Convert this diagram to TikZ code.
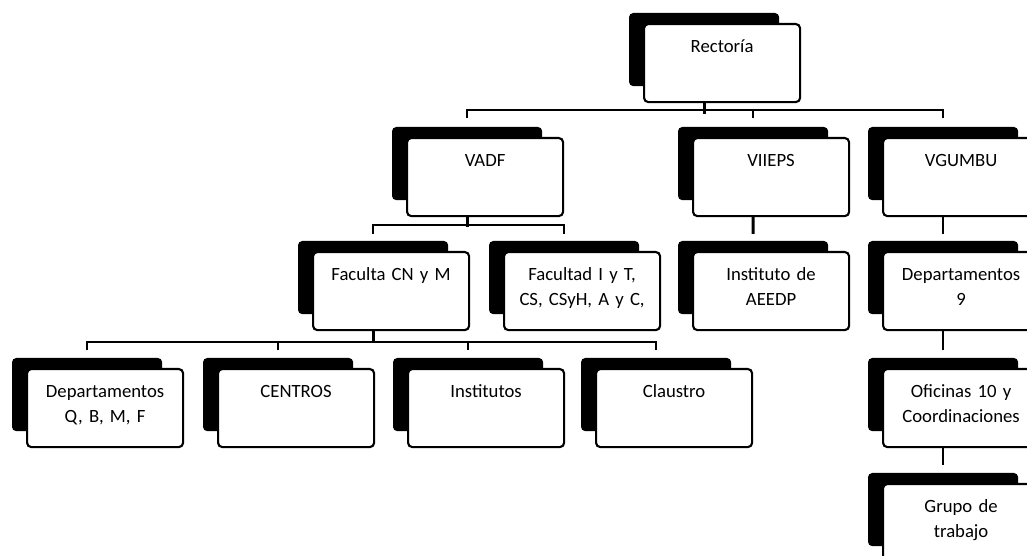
\documentclass[tikz,border=0pt]{standalone}
\usepackage{fontspec}
\setmainfont{Carlito}
\usetikzlibrary{backgrounds}
\begin{document}
\begin{tikzpicture}[x=0.025cm,y=-0.025cm,
		caja/.style={draw, fill=white, line width=1.5pt, rounded corners=3pt,
			minimum width=3.9cm, text width=3.7cm, inner xsep=0.1cm, inner ysep=0pt,
			align=center, text height=0.72cm, text depth=1.23cm,
			font=\fontsize{13.3}{17.5}\selectfont},
		sombra/.style={fill=black, rounded corners=3pt},
		tronco/.style={line width=2.2pt},
		rama/.style={line width=1.3pt}]
	\useasboundingbox (0,0) rectangle (1027,556);
	\clip (0,0) rectangle (1027,556);
	% cajas
	\node[caja] (rec) at (643,23)[anchor = north west] {Rectoría};
	\node[caja] (vadf) at (406,137)[anchor = north west] {VADF};
	\node[caja] (viieps) at (692,137)[anchor = north west] {VIIEPS};
	\node[caja] (vgumbu) at (882,137)[anchor = north west] {VGUMBU};
	\node[caja] (fcnm) at (312,251)[anchor = north west] {Faculta CN y M};
	\node[caja] (fiyt) at (503,251)[anchor = north west] {Facultad I y T,\\ CS, CSyH, A y C,};
	\node[caja] (aeedp) at (692,251)[anchor = north west] {Instituto de\\ AEEDP};
	\node[caja] (dep9) at (882,251)[anchor = north west] {Departamentos\\ 9};
	\node[caja] (depq) at (26,368)[anchor = north west] {Departamentos\\ Q, B, M, F};
	\node[caja] (centros) at (217,368)[anchor = north west] {CENTROS};
	\node[caja] (inst) at (407,368)[anchor = north west] {Institutos};
	\node[caja] (claustro) at (595,368)[anchor = north west] {Claustro};
	\node[caja] (ofic) at (882,368)[anchor = north west] {Oficinas 10 y\\ Coordinaciones};
	\node[caja] (grupo) at (882,483)[anchor = north west] {Grupo de\\ trabajo};
	% sombras
	\begin{scope}[on background layer]
		\foreach \n in {rec,vadf,viieps,vgumbu,fcnm,fiyt,aeedp,dep9,depq,centros,inst,claustro,ofic,grupo}
			\fill[sombra] ([shift={(-14,-10)}]\n.north west) rectangle ([shift={(-22,-17)}]\n.south east);
	\end{scope}
	% conectores
	\draw[tronco] ([xshift=-0.45cm]rec.south) -- ++(0,11);
	\draw[rama] ([shift={(-18,-19)}]vadf.north) -- ++(0,-8) -| ([shift={(-18,-19)}]vgumbu.north);
	\draw[rama] ([shift={(-18,-27)}]viieps.north) -- ++(0,8);
	\draw[tronco] ([xshift=-0.45cm]vadf.south) -- ++(0,10);
	\draw[rama] ([shift={(-18,-17)}]fcnm.north) -- ++(0,-9) -| ([shift={(-18,-17)}]fiyt.north);
	\draw[tronco] ([xshift=-0.45cm]viieps.south) -- ([shift={(-18,-17)}]aeedp.north);
	\draw[rama] ([xshift=-0.45cm]vgumbu.south) -- ([shift={(-18,-17)}]dep9.north);
	\draw[rama] ([xshift=-0.45cm]dep9.south) -- ([shift={(-18,-18)}]ofic.north);
	\draw[rama] ([xshift=-0.45cm]ofic.south) -- ([shift={(-18,-18)}]grupo.north);
	\draw[tronco] ([xshift=-0.45cm]fcnm.south) -- ++(0,12);
	\draw[rama] ([shift={(-18,-18)}]depq.north) -- ++(0,-8) -| ([shift={(-18,-18)}]claustro.north);
	\foreach \n in {centros,inst}
		\draw[rama] ([shift={(-18,-26)}]\n.north) -- ++(0,8);
\end{tikzpicture}
\end{document}
